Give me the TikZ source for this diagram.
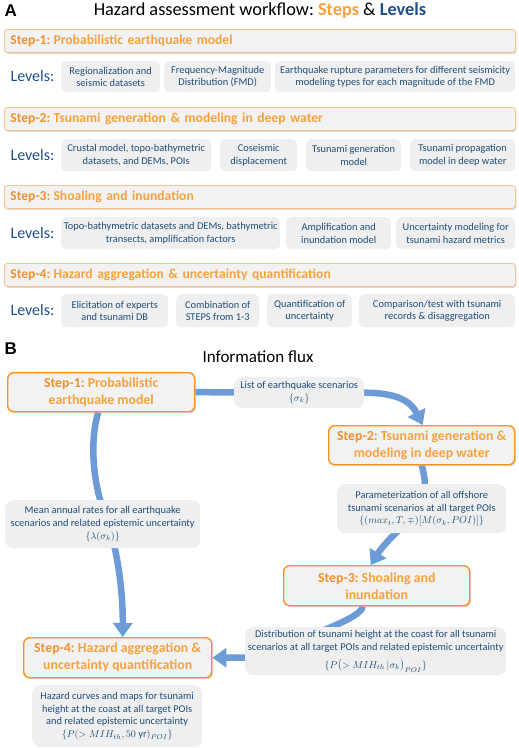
\documentclass[tikz,border=0pt]{standalone}
\usepackage{fontspec}
\setmainfont{Carlito}
\newfontfamily\arialfont{Liberation Sans}
\usetikzlibrary{arrows.meta,shadows}
\definecolor{orA}{HTML}{F0902F}
\definecolor{orB}{HTML}{F7A23C}
\definecolor{orBorder}{HTML}{F7941D}
\definecolor{orLight}{HTML}{F6C58C}
\definecolor{boxfill}{HTML}{EFEFEF}
\definecolor{barfill}{HTML}{F2F2F2}
\definecolor{txtblue}{HTML}{1F4E79}
\definecolor{lvlblue}{HTML}{1F4E8C}
\definecolor{flowblue}{HTML}{6C9BD8}
\pgfdeclarelayer{background}
\pgfsetlayers{background,main}
\newcommand{\stp}[2]{{\color{orA}#1}\hspace{3.2pt}{\color{orB}#2}}
\tikzset{
  panellab/.style={anchor=west, font=\arialfont\bfseries\fontsize{17}{20}\selectfont},
  stepbar/.style={draw=orLight, line width=0.8pt, fill=barfill, rounded corners=3pt,
    drop shadow={shadow xshift=1pt, shadow yshift=-1.5pt, fill=black!30, opacity=.5},
    anchor=north west, inner xsep=6pt, inner ysep=0pt, minimum height=23pt,
    text width=499pt, align=left, font=\bfseries\fontsize{13.6}{16}\selectfont},
  lvltxt/.style={anchor=west, text=lvlblue, font=\fontsize{16}{19}\selectfont},
  lvlbox/.style={fill=boxfill, rounded corners=5pt, anchor=north west, inner sep=1pt,
    align=center, text=txtblue, font=\fontsize{10.4}{12.5}\selectfont},
  stepB/.style={draw=orBorder, line width=1.4pt, fill=barfill, rounded corners=6pt,
    drop shadow={shadow xshift=1.2pt, shadow yshift=-1.5pt, fill=black!30, opacity=.5},
    anchor=north west, inner sep=1pt, align=center, text=orB,
    font=\bfseries\fontsize{13.8}{17}\selectfont},
  lblB/.style={fill=boxfill, rounded corners=8pt, anchor=north west, inner sep=1pt,
    align=center, text=txtblue, font=\fontsize{10.4}{12.7}\selectfont},
  flow/.style={draw=flowblue, line width=6.5pt, -{Triangle[width=19pt,length=14pt]}}
}
\begin{document}
\frenchspacing
\begin{tikzpicture}[x=1pt,y=-1pt]
\useasboundingbox (0,0) rectangle (519,748);
% ---------- Panel A ----------
\node[panellab] (labA) at (1,11) {A};
\node[font=\fontsize{18.3}{22}\selectfont] (titleA) at (260,11)
  {Hazard assessment workflow: \textbf{\color{orB}Steps} \& \textbf{\color{lvlblue}Levels}};
\node[stepbar] (st1) at (4,29) {\stp{Step-1:}{Probabilistic earthquake model}};
\node[stepbar] (st2) at (4,107) {\stp{Step-2:}{Tsunami generation \& modeling in deep water}};
\node[stepbar] (st3) at (4,185) {\stp{Step-3:}{Shoaling and inundation}};
\node[stepbar] (st4) at (4,263) {\stp{Step-4:}{Hazard aggregation \& uncertainty quantification}};
\node[lvltxt] (lv1) at (7,76.5) {Levels:};
\node[lvltxt] (lv2) at (7,155) {Levels:};
\node[lvltxt] (lv3) at (7,233) {Levels:};
\node[lvltxt] (lv4) at (7,310.5) {Levels:};
% row 1
\node[lvlbox, minimum width=99pt, minimum height=31pt] (b11) at (61,61) {Regionalization and\\seismic datasets};
\node[lvlbox, minimum width=107pt, minimum height=31pt] (b12) at (164,61) {Frequency-Magnitude\\Distribution (FMD)};
\node[lvlbox, minimum width=240pt, minimum height=31pt] (b13) at (275,61) {Earthquake rupture parameters for different seismicity\\modeling types for each magnitude of the FMD};
% row 2
\node[lvlbox, minimum width=150pt, minimum height=32pt] (b21) at (61,139) {Crustal model, topo-bathymetric\\datasets, and DEMs, POIs};
\node[lvlbox, minimum width=77pt, minimum height=32pt] (b22) at (220,139) {Coseismic\\displacement};
\node[lvlbox, minimum width=95pt, minimum height=32pt] (b23) at (306,139) {Tsunami generation\\model};
\node[lvlbox, minimum width=105pt, minimum height=32pt] (b24) at (410,139) {Tsunami propagation\\model in deep water};
% row 3
\node[lvlbox, minimum width=219pt, minimum height=32pt] (b31) at (61,217) {Topo-bathymetric datasets and DEMs, bathymetric\\transects, amplification factors};
\node[lvlbox, minimum width=105pt, minimum height=32pt] (b32) at (286,217) {Amplification and\\inundation model};
\node[lvlbox, minimum width=119pt, minimum height=32pt] (b33) at (396,217) {Uncertainty modeling for\\tsunami hazard metrics};
% row 4
\node[lvlbox, minimum width=107pt, minimum height=33pt] (b41) at (61,294) {Elicitation of experts\\and tsunami DB};
\node[lvlbox, minimum width=83pt, minimum height=33pt] (b42) at (176,294) {Combination of\\STEPS from 1-3};
\node[lvlbox, minimum width=85pt, minimum height=33pt] (b43) at (267,294) {Quantification of\\uncertainty};
\node[lvlbox, minimum width=156pt, minimum height=33pt] (b44) at (359,294) {Comparison/test with tsunami\\records \& disaggregation};
% ---------- Panel B ----------
\node[panellab] (labB) at (1,349) {B};
\node[font=\fontsize{17}{20}\selectfont] (titleB) at (258,357) {Information flux};
\node[stepB, minimum width=187pt, minimum height=39pt] (s1) at (7,372) {\stp{Step-1:}{Probabilistic}\\earthquake model};
\node[lblB, minimum width=130pt, minimum height=31pt] (list) at (234,377) {List of earthquake scenarios\\$\{\sigma_k\}$};
\node[stepB, minimum width=186pt, minimum height=39pt] (s2) at (328,425) {\stp{Step-2:}{Tsunami generation \&}\\modeling in deep water};
\node[lblB, minimum width=169pt, minimum height=49pt] (param) at (337,484) {Parameterization of all offshore\\tsunami scenarios at all target POIs\\$\{(max_t,T,\mp)[M(\sigma_k,POI)]\}$};
\node[lblB, minimum width=195pt, minimum height=48pt] (mean) at (5,500) {Mean annual rates for all earthquake\\scenarios and related epistemic uncertainty\\$\{\lambda(\sigma_k)\}$};
\node[stepB, minimum width=186pt, minimum height=40pt] (s3) at (283,565) {\stp{Step-3:}{Shoaling and}\\inundation};
\node[lblB, minimum width=261pt, minimum height=48pt] (dist) at (245,627) {Distribution of tsunami height at the coast for all tsunami\\scenarios at all target POIs and related epistemic uncertainty\\[5pt]$\{P\bigl(>MIH_{th}\,|\sigma_k\bigr)_{POI}\}$};
\node[stepB, minimum width=188pt, minimum height=40pt] (s4) at (23,637) {\stp{Step-4:}{Hazard aggregation \&}\\uncertainty quantification};
\node[lblB, minimum width=170pt, minimum height=62pt] (haz) at (32,685) {Hazard curves and maps for tsunami\\height at the coast at all target POIs\\and related epistemic uncertainty\\$\{P(>MIH_{th},50\ \mathrm{yr})_{POI}\}$};
% ---------- flows ----------
\begin{pgfonlayer}{background}
\draw[flow] (s1.east) -- (list.east) .. controls +(32,0) and +(-12,-24) .. ([xshift=1pt]s2.north);
\draw[flow] (s2.south) .. controls (429,490) and (424,510) .. (405,525) .. controls (390,537) and (380,550) .. ([xshift=-6pt]s3.north);
\draw[flow] ([xshift=-14pt]s3.south) .. controls +(0,14) and +(30,-10) .. (dist.west |- s4.east) -- (s4.east);
\draw[flow] ([xshift=-3pt]s1.south) .. controls (90,440) and (92,480) .. (105,515) .. controls (117,545) and (123,590) .. ([xshift=5pt]s4.north);
\end{pgfonlayer}
\end{tikzpicture}
\end{document}
